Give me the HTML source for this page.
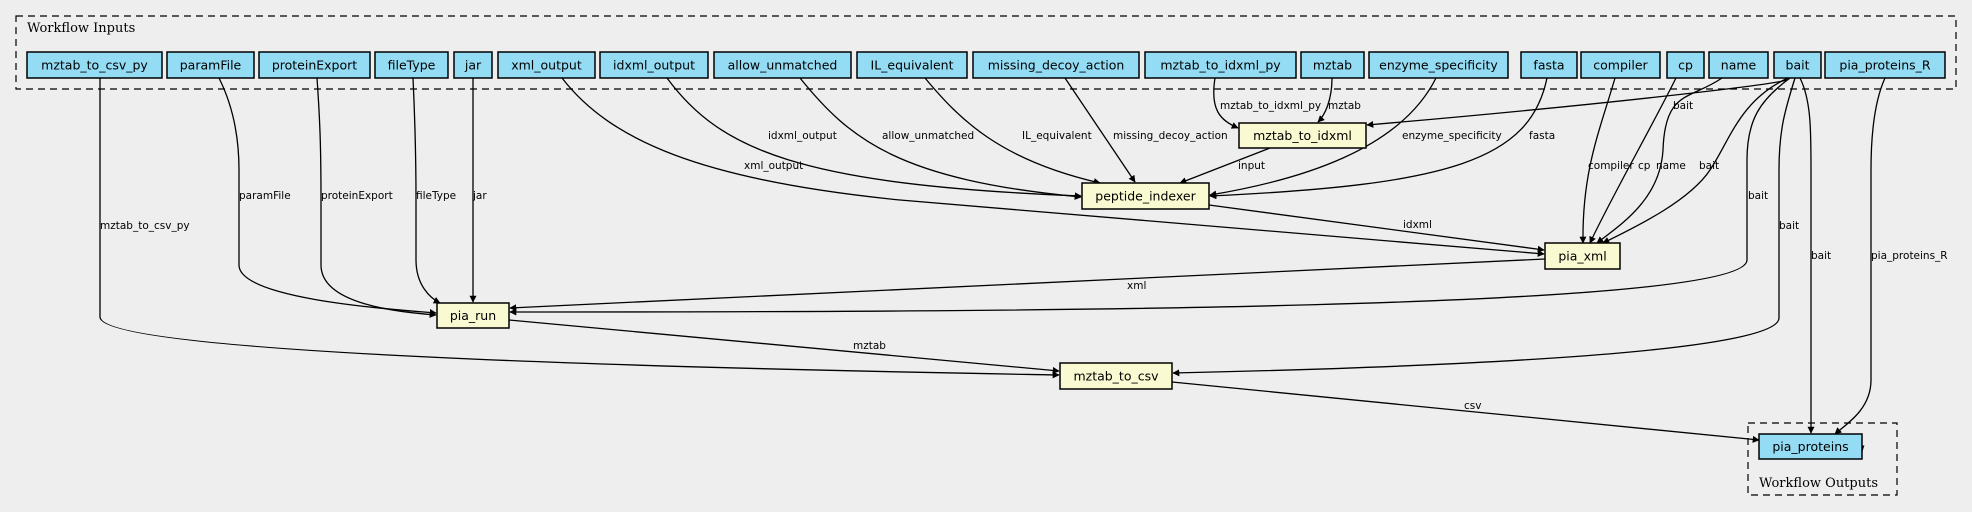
<!DOCTYPE html>
<html><head><meta charset="utf-8"><style>
html,body{margin:0;padding:0;background:#eeeeee;}
svg{display:block;}
.n{font-family:"DejaVu Sans","Liberation Sans",sans-serif;font-size:12.5px;fill:#000;}
.e{font-family:"DejaVu Sans","Liberation Sans",sans-serif;font-size:10.5px;fill:#000;}
.t{font-family:"DejaVu Serif","Liberation Serif",serif;font-size:13px;fill:#000;}
.i{fill:#94dcf4;stroke:#000;stroke-width:1.5;}
.s{fill:#fafad2;stroke:#000;stroke-width:1.5;}
path.l{fill:none;stroke:#000;stroke-width:1.3;marker-end:url(#a);}
</style></head><body>
<svg width="1972" height="512" viewBox="0 0 1972 512" xmlns="http://www.w3.org/2000/svg">
<defs><marker id="a" viewBox="0 0 10 10" refX="9" refY="5" markerWidth="7" markerHeight="7" orient="auto" markerUnits="userSpaceOnUse"><path d="M0,0L10,5L0,10z" fill="#000"/></marker></defs>
<rect width="1972" height="512" fill="#eeeeee"/>
<rect x="16" y="16" width="1940" height="73" fill="none" stroke="#000" stroke-dasharray="7,5" stroke-width="1.2"/>
<text class="t" x="27" y="32">Workflow Inputs</text>
<rect x="1748" y="423" width="149" height="72" fill="none" stroke="#000" stroke-dasharray="7,5" stroke-width="1.2"/>
<text class="t" x="1759" y="487">Workflow Outputs</text>

<!-- edges -->
<path class="l" d="M100,78 C100,150 100,280 100,317 C100,360 900,372 1059,375"/>
<path class="l" d="M219,78 C230,100 239,130 239,170 L239,265 C239,300 400,310 436,313"/>
<path class="l" d="M317,78 C320,120 321,150 321,200 L321,265 C321,305 400,312 436,315"/>
<path class="l" d="M413,78 C415,120 416,160 416,200 L416,260 C416,285 430,298 440,303"/>
<path class="l" d="M473,78 L473,302"/>
<path class="l" d="M562,78 C610,140 700,180 900,200 L1544,254"/>
<path class="l" d="M667,78 C720,150 800,185 1081,196"/>
<path class="l" d="M800,78 C850,140 900,180 1081,197"/>
<path class="l" d="M925,78 C960,120 1000,160 1100,183"/>
<path class="l" d="M1065,78 L1135,182"/>
<path class="l" d="M1215,78 C1210,110 1220,120 1238,128"/>
<path class="l" d="M1332,78 C1332,100 1325,115 1318,122"/>
<path class="l" d="M1270,148 L1180,183"/>
<path class="l" d="M1436,78 C1400,150 1300,180 1210,195"/>
<path class="l" d="M1547,78 C1530,160 1450,185 1210,196"/>
<path class="l" d="M1787,80 C1770,85 1600,105 1367,125"/>
<path class="l" d="M1615,78 C1600,130 1582,170 1583,243"/>
<path class="l" d="M1676,78 C1650,130 1610,200 1590,243"/>
<path class="l" d="M1722,78 C1690,100 1665,90 1663,150 C1660,200 1620,225 1597,243"/>
<path class="l" d="M1788,78 C1740,100 1730,140 1710,170 C1690,200 1640,225 1603,243"/>
<path class="l" d="M1209,205 L1544,250"/>
<path class="l" d="M1545,259 L510,308"/>
<path class="l" d="M1790,78 C1760,100 1747,120 1747,160 L1747,260 C1747,310 1000,312 510,312"/>
<path class="l" d="M1795,78 C1785,110 1779,130 1779,170 L1779,318 C1779,355 1400,368 1173,373"/>
<path class="l" d="M1800,78 C1811,100 1811,130 1811,170 L1811,433"/>
<path class="l" d="M1885,78 C1875,100 1871,130 1871,170 L1871,380 C1871,410 1845,425 1835,434"/>
<path class="l" d="M509,320 L1059,371"/>
<path class="l" d="M1172,382 L1759,440"/>
<path class="l" d="M1860,440 L1862,452"/>

<!-- edge labels -->
<text class="e" x="100" y="229">mztab_to_csv_py</text>
<text class="e" x="239" y="199">paramFile</text>
<text class="e" x="321" y="199">proteinExport</text>
<text class="e" x="416" y="199">fileType</text>
<text class="e" x="473" y="199">jar</text>
<text class="e" x="768" y="139">idxml_output</text>
<text class="e" x="882" y="139">allow_unmatched</text>
<text class="e" x="1022" y="139">IL_equivalent</text>
<text class="e" x="1113" y="139">missing_decoy_action</text>
<text class="e" x="744" y="169">xml_output</text>
<text class="e" x="1220" y="109">mztab_to_idxml_py</text>
<text class="e" x="1328" y="109">mztab</text>
<text class="e" x="1673" y="109">bait</text>
<text class="e" x="1238" y="169">input</text>
<text class="e" x="1402" y="139">enzyme_specificity</text>
<text class="e" x="1529" y="139">fasta</text>
<text class="e" x="1588" y="169">compiler</text>
<text class="e" x="1638" y="169">cp</text>
<text class="e" x="1656" y="169">name</text>
<text class="e" x="1699" y="169">bait</text>
<text class="e" x="1748" y="199">bait</text>
<text class="e" x="1779" y="229">bait</text>
<text class="e" x="1811" y="259">bait</text>
<text class="e" x="1871" y="259">pia_proteins_R</text>
<text class="e" x="1403" y="228">idxml</text>
<text class="e" x="1127" y="289">xml</text>
<text class="e" x="853" y="349">mztab</text>
<text class="e" x="1464" y="409">csv</text>

<!-- input nodes -->
<g>
<rect class="i" x="27" y="52" width="135" height="26"/><text class="n" x="94.5" y="69.5" text-anchor="middle">mztab_to_csv_py</text>
<rect class="i" x="167" y="52" width="87" height="26"/><text class="n" x="210.5" y="69.5" text-anchor="middle">paramFile</text>
<rect class="i" x="259" y="52" width="111" height="26"/><text class="n" x="314.5" y="69.5" text-anchor="middle">proteinExport</text>
<rect class="i" x="375" y="52" width="73" height="26"/><text class="n" x="411.5" y="69.5" text-anchor="middle">fileType</text>
<rect class="i" x="454" y="52" width="38" height="26"/><text class="n" x="473" y="69.5" text-anchor="middle">jar</text>
<rect class="i" x="498" y="52" width="97" height="26"/><text class="n" x="546.5" y="69.5" text-anchor="middle">xml_output</text>
<rect class="i" x="600" y="52" width="108" height="26"/><text class="n" x="654" y="69.5" text-anchor="middle">idxml_output</text>
<rect class="i" x="714" y="52" width="137" height="26"/><text class="n" x="782.5" y="69.5" text-anchor="middle">allow_unmatched</text>
<rect class="i" x="857" y="52" width="110" height="26"/><text class="n" x="912" y="69.5" text-anchor="middle">IL_equivalent</text>
<rect class="i" x="973" y="52" width="166" height="26"/><text class="n" x="1056" y="69.5" text-anchor="middle">missing_decoy_action</text>
<rect class="i" x="1145" y="52" width="151" height="26"/><text class="n" x="1220.5" y="69.5" text-anchor="middle">mztab_to_idxml_py</text>
<rect class="i" x="1301" y="52" width="63" height="26"/><text class="n" x="1332.5" y="69.5" text-anchor="middle">mztab</text>
<rect class="i" x="1369" y="52" width="139" height="26"/><text class="n" x="1438.5" y="69.5" text-anchor="middle">enzyme_specificity</text>
<rect class="i" x="1521" y="52" width="56" height="26"/><text class="n" x="1549" y="69.5" text-anchor="middle">fasta</text>
<rect class="i" x="1581" y="52" width="79" height="26"/><text class="n" x="1620.5" y="69.5" text-anchor="middle">compiler</text>
<rect class="i" x="1667" y="52" width="37" height="26"/><text class="n" x="1685.5" y="69.5" text-anchor="middle">cp</text>
<rect class="i" x="1709" y="52" width="59" height="26"/><text class="n" x="1738.5" y="69.5" text-anchor="middle">name</text>
<rect class="i" x="1774" y="52" width="47" height="26"/><text class="n" x="1797.5" y="69.5" text-anchor="middle">bait</text>
<rect class="i" x="1825" y="52" width="120" height="26"/><text class="n" x="1885" y="69.5" text-anchor="middle">pia_proteins_R</text>
</g>
<!-- steps -->
<rect class="s" x="1239" y="123" width="127" height="25"/><text class="n" x="1302.5" y="140" text-anchor="middle">mztab_to_idxml</text>
<rect class="s" x="1082" y="183" width="127" height="26"/><text class="n" x="1145.5" y="200.5" text-anchor="middle">peptide_indexer</text>
<rect class="s" x="1545" y="243" width="75" height="26"/><text class="n" x="1582.5" y="260.5" text-anchor="middle">pia_xml</text>
<rect class="s" x="437" y="303" width="72" height="25"/><text class="n" x="473" y="320" text-anchor="middle">pia_run</text>
<rect class="s" x="1060" y="363" width="112" height="26"/><text class="n" x="1116" y="380.5" text-anchor="middle">mztab_to_csv</text>
<rect class="i" x="1759" y="434" width="103" height="25"/><text class="n" x="1810.5" y="451" text-anchor="middle">pia_proteins</text>
</svg>
</body></html>
